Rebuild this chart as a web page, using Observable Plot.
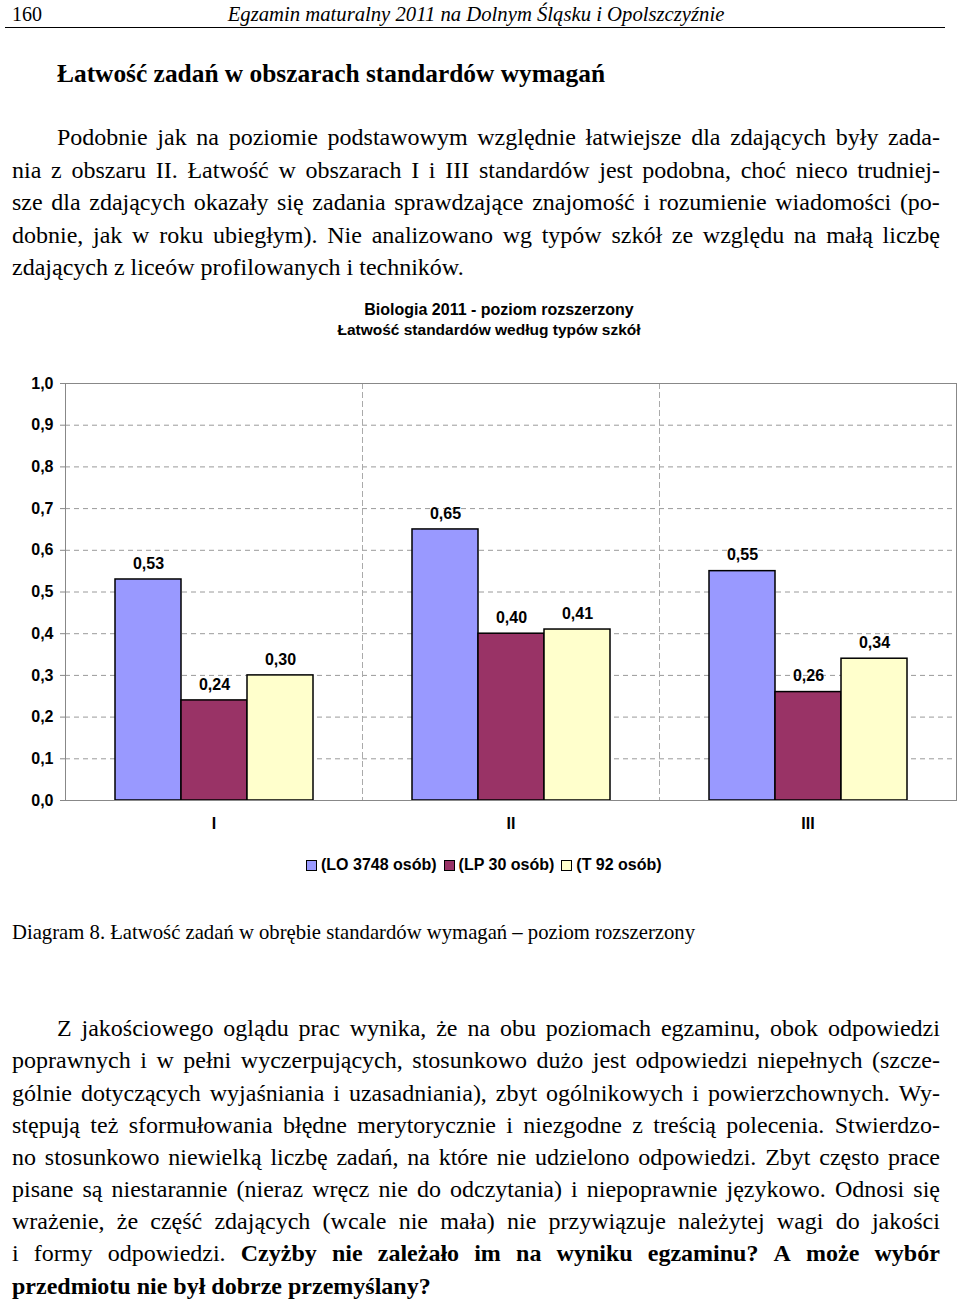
<!DOCTYPE html>
<html>
<head>
<meta charset="utf-8">
<script src="https://cdn.jsdelivr.net/npm/d3@7"></script>
<script src="https://cdn.jsdelivr.net/npm/@observablehq/plot@0.6"></script>
<style>
  html, body { margin: 0; padding: 0; background: #fff; }
  body { width: 960px; height: 1302px; position: relative; overflow: hidden; color: #000; }
  .abs { position: absolute; white-space: nowrap; }
  .serif { font-family: "Liberation Serif", "DejaVu Serif", serif; }
  .sans { font-family: "Liberation Sans", Arial, sans-serif; }
  .jline { position: absolute; display: flex; justify-content: space-between; white-space: nowrap; }
  .jline span { flex-shrink: 0; }
  .legend { position: absolute; display: flex; align-items: center; font: bold 16px "Liberation Sans", Arial, sans-serif; white-space: nowrap; }
  .legend .sw { width: 9px; height: 9px; border: 1px solid #000; margin-right: 4px; }
  .legend .item { display: flex; align-items: center; margin-right: 7px; }
</style>
</head>
<body>
<div id="page"></div>
<div id="chart" style="position:absolute; left:0; top:360px;"></div>
<script>
// ---------- data ----------
const categories = ["I", "II", "III"];
const seriesKeys = ["LO", "LP", "T"];
const seriesLabels = ["(LO 3748 osób)", "(LP 30 osób)", "(T 92 osób)"];
const valuesLO = [0.53, 0.65, 0.55];
const valuesLP = [0.24, 0.40, 0.26];
const valuesT  = [0.30, 0.41, 0.34];
const seriesColors = ["#9999FF", "#993366", "#FFFFCC"];
const yTicks = [0, 0.1, 0.2, 0.3, 0.4, 0.5, 0.6, 0.7, 0.8, 0.9, 1.0];

const chartTitle = ["Biologia 2011 - poziom rozszerzony", "Łatwość standardów według typów szkół"];
const pageNumber = "160";
const runningHead = "Egzamin maturalny 2011 na Dolnym Śląsku i Opolszczyźnie";
const heading = "Łatwość zadań w obszarach standardów wymagań";
const caption = "Diagram 8. Łatwość zadań w obrębie standardów wymagań – poziom rozszerzony";
const para1 = [
  "Podobnie jak na poziomie podstawowym względnie łatwiejsze dla zdających były zada-",
  "nia z obszaru II. Łatwość w obszarach I i III standardów jest podobna, choć nieco trudniej-",
  "sze dla zdających okazały się zadania sprawdzające znajomość i rozumienie wiadomości (po-",
  "dobnie, jak w roku ubiegłym). Nie analizowano wg typów szkół ze względu na małą liczbę",
  "zdających z liceów profilowanych i techników."
];
const para2 = [
  "Z jakościowego oglądu prac wynika, że na obu poziomach egzaminu, obok odpowiedzi",
  "poprawnych i w pełni wyczerpujących, stosunkowo dużo jest odpowiedzi niepełnych (szcze-",
  "gólnie dotyczących wyjaśniania i uzasadniania), zbyt ogólnikowych i powierzchownych. Wy-",
  "stępują też sformułowania błędne merytorycznie i niezgodne z treścią polecenia. Stwierdzo-",
  "no stosunkowo niewielką liczbę zadań, na które nie udzielono odpowiedzi. Zbyt często prace",
  "pisane są niestarannie (nieraz wręcz nie do odczytania) i niepoprawnie językowo. Odnosi się",
  "wrażenie, że część zdających (wcale nie mała) nie przywiązuje należytej wagi do jakości",
  "i formy odpowiedzi. *Czyżby *nie *zależało *im *na *wyniku *egzaminu? *A *może *wybór",
  "*przedmiotu *nie *był *dobrze *przemyślany?"
];

// ---------- page text ----------
const page = document.getElementById("page");
function addText(txt, {left, cy, size, weight = "normal", style = "normal", cls = "serif", lh = 30, center = null}) {
  const d = document.createElement("div");
  d.className = "abs " + cls;
  d.textContent = txt;
  d.style.fontSize = size + "px";
  d.style.fontWeight = weight;
  d.style.fontStyle = style;
  d.style.lineHeight = lh + "px";
  d.style.top = (cy - lh / 2) + "px";
  if (center != null) {
    d.style.left = (center - 500) + "px";
    d.style.width = "1000px";
    d.style.textAlign = "center";
  } else {
    d.style.left = left + "px";
  }
  page.appendChild(d);
}
function addLine(txt, {left, right, cy, size, justify, lh = 30}) {
  const d = document.createElement("div");
  d.className = justify ? "jline serif" : "abs serif";
  d.style.fontSize = size + "px";
  d.style.lineHeight = lh + "px";
  d.style.top = (cy - lh / 2) + "px";
  d.style.left = left + "px";
  if (justify) d.style.width = (right - left) + "px";
  const words = txt.split(" ");
  words.forEach((w, i) => {
    const s = document.createElement("span");
    let word = w;
    if (word.startsWith("*")) { word = word.slice(1); s.style.fontWeight = "bold"; }
    s.textContent = justify ? word : (i < words.length - 1 ? word + "\u00a0" : word);
    d.appendChild(s);
  });
  page.appendChild(d);
}

addText(pageNumber, {left: 12, cy: 14, size: 20});
addText(runningHead, {center: 476, cy: 14, size: 20.7, style: "italic"});
const rule = document.createElement("div");
rule.style.cssText = "position:absolute;left:5px;top:27px;width:940px;height:0;border-top:1.5px solid #000;";
page.appendChild(rule);
addText(heading, {left: 57, cy: 73, size: 25.4, weight: "bold"});

const p1y = [137, 170, 202, 235, 267];
para1.forEach((t, i) => addLine(t, {left: i === 0 ? 57 : 12, right: 940, cy: p1y[i], size: 24, justify: i < para1.length - 1}));

addText(chartTitle[0], {center: 499, cy: 310, size: 16, weight: "bold", cls: "sans", lh: 20});
addText(chartTitle[1], {center: 489, cy: 330, size: 15.5, weight: "bold", cls: "sans", lh: 20});

addText(caption, {left: 12, cy: 932, size: 20.7});

const p2y = [1028, 1060, 1093, 1125, 1157, 1189, 1221, 1253, 1286];
para2.forEach((t, i) => addLine(t, {left: i === 0 ? 57 : 12, right: 940, cy: p2y[i], size: 24, justify: i < para2.length - 1}));

// legend
const leg = document.createElement("div");
leg.className = "legend";
leg.style.left = "306px";
leg.style.top = "855px";
leg.style.height = "20px";
seriesKeys.forEach((k, i) => {
  const it = document.createElement("div");
  it.className = "item";
  const sw = document.createElement("div");
  sw.className = "sw";
  sw.style.background = seriesColors[i];
  const tx = document.createElement("span");
  tx.textContent = seriesLabels[i];
  it.appendChild(sw); it.appendChild(tx);
  leg.appendChild(it);
});
page.appendChild(leg);

// ---------- chart ----------
const allValues = [valuesLO, valuesLP, valuesT];
const data = categories.flatMap((c, i) => seriesKeys.map((s, j) => ({category: c, series: s, value: allValues[j][i]})));
const fmt2 = v => d3.format(".2f")(v).replace(".", ",");
const fmt1 = v => d3.format(".1f")(v).replace(".", ",");

const chart = Plot.plot({
  width: 960,
  height: 480,
  marginLeft: 65,
  marginRight: 4,
  marginTop: 23,
  marginBottom: 40,
  fx: {domain: categories, padding: 0, label: null},
  x: {domain: seriesKeys, paddingInner: 0, paddingOuter: 0.75, axis: null},
  y: {domain: [0, 1], label: null},
  color: {domain: seriesKeys, range: seriesColors},
  style: {fontFamily: "'Liberation Sans', Arial, sans-serif", fontSize: "16px", fontWeight: "bold", color: "black", background: "white", overflow: "visible"},
  marks: [
    Plot.gridY(yTicks.filter(t => t > 0 && t < 1), {stroke: "#9a9a9a", strokeOpacity: 1, strokeDasharray: "5,4"}),
    Plot.frame({anchor: "left", stroke: "#aaaaaa", strokeDasharray: "5,4"}),
    Plot.frame({anchor: "left", stroke: "#888888", facetAnchor: "left"}),
    Plot.frame({anchor: "right", stroke: "#888888", facetAnchor: "right"}),
    Plot.ruleY([1], {stroke: "#888888"}),
    Plot.barY(data, {fx: "category", x: "series", y: "value", fill: "series", stroke: "black", strokeWidth: 1.5}),
    Plot.text(data, {fx: "category", x: "series", y: "value", text: d => fmt2(d.value), dy: -16, fill: "black", fontSize: 16}),
    Plot.ruleY([0], {stroke: "#888888"}),
    Plot.axisY({ticks: yTicks, tickFormat: fmt1, tickSize: 5, tickPadding: 7, stroke: "#888888", fill: "black", label: null, fontSize: 16}),
    Plot.axisFx({anchor: "bottom", tickSize: 0, tickPadding: 17, label: null, fill: "black", fontSize: 16})
  ]
});
document.getElementById("chart").appendChild(chart);
</script>
</body>
</html>
